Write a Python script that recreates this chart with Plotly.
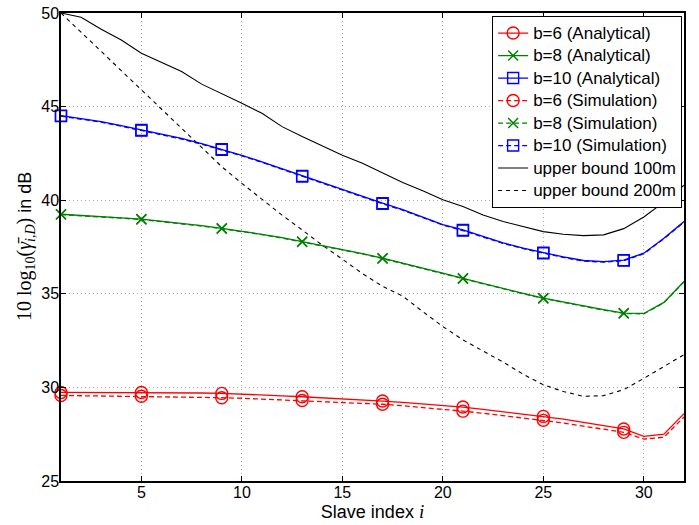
import plotly.graph_objects as go

# ---------------- data ----------------
slave_index = list(range(1, 33))

b6_analytical = [29.73, 29.73, 29.73, 29.73, 29.73, 29.72, 29.71, 29.70, 29.68, 29.65,
                 29.60, 29.55, 29.50, 29.45, 29.40, 29.33, 29.27, 29.20, 29.12, 29.03,
                 28.95, 28.83, 28.70, 28.58, 28.45, 28.30, 28.13, 27.95, 27.78, 27.38,
                 27.50, 28.60]
b6_simulation = [29.57, 29.56, 29.55, 29.54, 29.53, 29.52, 29.50, 29.48, 29.45, 29.42,
                 29.38, 29.34, 29.30, 29.26, 29.22, 29.17, 29.10, 29.02, 28.93, 28.83,
                 28.73, 28.62, 28.50, 28.37, 28.24, 28.10, 27.93, 27.77, 27.60, 27.24,
                 27.34, 28.42]
b8_analytical = [39.25, 39.20, 39.13, 39.06, 38.99, 38.88, 38.76, 38.64, 38.50, 38.35,
                 38.18, 38.00, 37.79, 37.60, 37.40, 37.15, 36.90, 36.62, 36.35, 36.10,
                 35.83, 35.55, 35.28, 35.02, 34.77, 34.55, 34.35, 34.15, 33.97, 33.95,
                 34.54, 35.66]
b8_simulation = [39.23, 39.18, 39.11, 39.04, 38.97, 38.86, 38.74, 38.62, 38.48, 38.33,
                 38.16, 37.98, 37.77, 37.58, 37.38, 37.13, 36.88, 36.60, 36.33, 36.08,
                 35.81, 35.53, 35.26, 35.00, 34.75, 34.53, 34.33, 34.13, 33.95, 33.93,
                 34.52, 35.64]
b10_analytical = [44.52, 44.35, 44.20, 43.98, 43.75, 43.55, 43.30, 43.02, 42.72, 42.40,
                  42.05, 41.68, 41.30, 40.95, 40.60, 40.22, 39.84, 39.50, 39.12, 38.70,
                  38.41, 38.06, 37.72, 37.44, 37.20, 36.97, 36.78, 36.72, 36.80, 37.17,
                  37.97, 38.86]
b10_simulation = [44.49, 44.32, 44.17, 43.95, 43.72, 43.52, 43.27, 42.99, 42.69, 42.37,
                  42.02, 41.65, 41.27, 40.92, 40.57, 40.19, 39.81, 39.47, 39.09, 38.67,
                  38.38, 38.03, 37.69, 37.41, 37.17, 36.94, 36.75, 36.69, 36.77, 37.14,
                  37.94, 38.83]
upper_100m = [50.00, 49.77, 49.13, 48.56, 47.85, 47.35, 46.87, 46.20, 45.71, 45.18,
              44.64, 43.93, 43.40, 42.88, 42.40, 41.98, 41.47, 40.95, 40.50, 40.02,
              39.66, 39.21, 38.86, 38.59, 38.32, 38.18, 38.11, 38.15, 38.48, 39.10,
              39.90, 40.80]
upper_200m = [50.00, 48.97, 47.94, 46.90, 45.89, 44.85, 43.80, 42.80, 41.79, 40.90,
              40.05, 39.20, 38.41, 37.60, 36.85, 36.08, 35.40, 34.88, 34.05, 33.25,
              32.54, 31.95, 31.35, 30.70, 30.14, 29.78, 29.52, 29.56, 29.88, 30.48,
              31.10, 31.75]

x_ticks = [5, 10, 15, 20, 25, 30]
y_ticks = [25, 30, 35, 40, 45, 50]
marker_step = 4

RED, GREEN, BLUE, BLACK = "rgb(255,0,0)", "rgb(0,128,0)", "rgb(0,0,255)", "black"
SIM_DASH = "5px,3px"
BOUND_DASH = "4px,4px"

series = [
    ("b=6 (Analytical)", b6_analytical, RED, "solid", "circle-open", 12),
    ("b=8 (Analytical)", b8_analytical, GREEN, "solid", "x-thin-open", 10),
    ("b=10 (Analytical)", b10_analytical, BLUE, "solid", "square-open", 11),
    ("b=6 (Simulation)", b6_simulation, RED, SIM_DASH, "circle-open", 12),
    ("b=8 (Simulation)", b8_simulation, GREEN, SIM_DASH, "x-thin-open", 10),
    ("b=10 (Simulation)", b10_simulation, BLUE, SIM_DASH, "square-open", 11),
]

fig = go.Figure()

fig.add_trace(go.Scatter(x=slave_index, y=upper_100m, mode="lines",
                         line=dict(color=BLACK, width=1.1), showlegend=False, hoverinfo="skip"))
fig.add_trace(go.Scatter(x=slave_index, y=upper_200m, mode="lines",
                         line=dict(color=BLACK, width=1.1, dash=BOUND_DASH), showlegend=False, hoverinfo="skip"))

for name, vals, col, dash, sym, size in series:
    fig.add_trace(go.Scatter(x=slave_index, y=vals, mode="lines",
                             line=dict(color=col, width=1.3, dash=dash),
                             showlegend=False, hoverinfo="skip"))
    fig.add_trace(go.Scatter(x=slave_index[::marker_step], y=vals[::marker_step], mode="markers",
                             marker=dict(symbol=sym, size=size, color=col,
                                         line=dict(color=col, width=1.4)),
                             cliponaxis=False, showlegend=False, hoverinfo="skip"))

LEG = '<span style="font-size:17px">{}</span>'
for name, vals, col, dash, sym, size in series:
    fig.add_trace(go.Scatter(x=[None], y=[None], mode="lines+markers", name=LEG.format(name),
                             line=dict(color=col, width=1.3, dash=dash),
                             marker=dict(symbol=sym, size=size, color=col,
                                         line=dict(color=col, width=1.4))))
fig.add_trace(go.Scatter(x=[None], y=[None], mode="lines", name=LEG.format("upper bound 100m"),
                         line=dict(color=BLACK, width=1.1)))
fig.add_trace(go.Scatter(x=[None], y=[None], mode="lines", name=LEG.format("upper bound 200m"),
                         line=dict(color=BLACK, width=1.1, dash=BOUND_DASH)))

SANS = "Liberation Sans, Arial, sans-serif"
axis_common = dict(
    showline=True, linecolor="black", linewidth=1.5, mirror="ticks",
    ticks="inside", ticklen=5, tickcolor="black", tickwidth=1,
    showgrid=True, gridcolor="rgb(170,170,170)", gridwidth=1, griddash="1px,3px",
    zeroline=False, automargin=False, ticklabeloverflow="allow",
    tickfont=dict(family=SANS, size=16, color="black"),
)

fig.update_xaxes(range=[1, 32], tickvals=x_ticks, ticklabelstandoff=-4,
                 title=dict(text='Slave index <i><span style="font-family:Liberation Serif;font-size:19px">i</span></i>',
                            font=dict(family=SANS, size=18, color="black"),
                            standoff=0),
                 **axis_common)
fig.update_yaxes(range=[25, 50], tickvals=y_ticks, ticklabelstandoff=-3, **axis_common)

fig.add_annotation(
    text='<span style="font-family:Liberation Serif;font-size:20px">10 log<sub>10</sub>(<i>γ̄</i><sub><i>i,D</i></sub>)</span> in dB',
    xref="paper", yref="paper", x=0, y=0.5, xanchor="center", yanchor="middle",
    xshift=-36, yshift=0, textangle=-90, showarrow=False,
    font=dict(family=SANS, size=18, color="black"),
)

fig.update_layout(
    width=699, height=525,
    margin=dict(l=61, r=15, t=13, b=44),
    paper_bgcolor="white", plot_bgcolor="white",
    legend=dict(x=0.997, y=0.994, xanchor="right", yanchor="top",
                bgcolor="white", bordercolor="black", borderwidth=1,
                font=dict(family=SANS, size=15, color="black"),
                tracegroupgap=0, itemwidth=30),
    showlegend=True,
)

fig.write_html("out.html", config={"displayModeBar": False},
               post_script="document.body.style.margin='0px';")
